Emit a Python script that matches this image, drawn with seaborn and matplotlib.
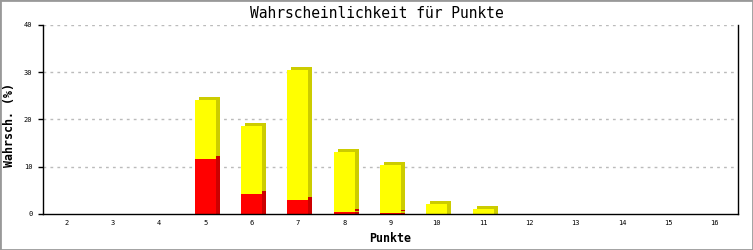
import matplotlib
matplotlib.use("Agg")
import matplotlib.pyplot as plt
import matplotlib.transforms as mtransforms
from matplotlib.patches import Rectangle
import seaborn as sns
import pandas as pd

# ---- data ----
punkte = [2, 3, 4, 5, 6, 7, 8, 9, 10, 11, 12, 13, 14, 15, 16]
gesamt = [0, 0, 0, 24.1, 18.6, 30.5, 13.2, 10.4, 2.1, 1.1, 0, 0, 0, 0, 0]
rot = [0, 0, 0, 11.6, 4.2, 3.0, 0.4, 0.15, 0, 0, 0, 0, 0, 0, 0]
y_ticks = [0, 10, 20, 30, 40]

title = "Wahrscheinlichkeit für Punkte"
xlabel = "Punkte"
ylabel = "Wahrsch. (%)"

df = pd.DataFrame({"Punkte": [str(p) for p in punkte], "Gesamt": gesamt, "Rot": rot})
order = [str(p) for p in punkte]

sns.set_theme(style="white")
plt.rcParams["font.family"] = ["DejaVu Sans Mono", "DejaVu Sans"]
plt.rcParams["text.color"] = "black"
plt.rcParams["axes.labelcolor"] = "black"
plt.rcParams["xtick.color"] = "black"
plt.rcParams["ytick.color"] = "black"

W, H = 753, 250
fig = plt.figure(figsize=(W / 100, H / 100), dpi=100)
fig.patch.set_facecolor("white")
ax = fig.add_axes([43 / W, 36 / H, 695 / W, 189 / H])
ax.set_facecolor("white")

bw = 0.45


def draw(col, color, dx=0, dy=0, z=3):
    n0 = len(ax.patches)
    sns.barplot(data=df, x="Punkte", y=col, order=order, color=color,
                width=bw, linewidth=0, saturation=1, ax=ax, errorbar=None)
    tr = None
    if dx or dy:
        tr = mtransforms.offset_copy(ax.transData, fig=fig, x=dx, y=dy, units="dots")
    for p in ax.patches[n0:]:
        p.set_edgecolor("none")
        p.set_antialiased(False)
        p.set_zorder(z)
        if tr is not None:
            p.set_transform(tr)


# side/top faces (3D depth)
draw("Gesamt", "#cccc00", 4, 3, 2)
draw("Gesamt", "#cccc00", 4, 0, 2)
draw("Rot", "#cc0000", 4, 3, 2)
draw("Rot", "#cc0000", 4, 0, 2)
# front faces
draw("Gesamt", "#ffff00")
draw("Rot", "#ff0000")

ax.set_xlim(-0.5, len(punkte) - 0.5)
ax.set_ylim(0, 40)
ax.set_yticks(y_ticks)
ax.set_yticklabels([str(v) for v in y_ticks])

for v in y_ticks[1:]:
    ax.axhline(v, color="#bbbbbb", lw=1, linestyle=(0, (2, 3)), zorder=1)

for s in ["left", "right", "bottom"]:
    ax.spines[s].set_visible(True)
    ax.spines[s].set_color("black")
    ax.spines[s].set_linewidth(1)
    ax.spines[s].set_zorder(5)
ax.spines["top"].set_visible(False)

ax.tick_params(axis="y", left=True, length=3.6, width=1, color="black",
               labelsize=5, pad=4, labelcolor="black")
ax.tick_params(axis="x", bottom=False, length=0, labelsize=5, pad=4.5,
               labelcolor="black")

ax.set_xlabel(xlabel, fontsize=8.4, fontweight="bold", color="black")
ax.set_ylabel(ylabel, fontsize=8.4, fontweight="bold", color="black")
ax.xaxis.set_label_coords(0.5, -0.095)
ax.yaxis.set_label_coords(-0.039, 0.47)

fig.text(0.5, 1 - 13 / H, title, ha="center", va="center", fontsize=10.5,
         color="black")

fig.patches.append(Rectangle((0, 0), 1, 1, transform=fig.transFigure,
                             fill=False, edgecolor="#999999", lw=2))

fig.savefig("out.png", dpi=100)
